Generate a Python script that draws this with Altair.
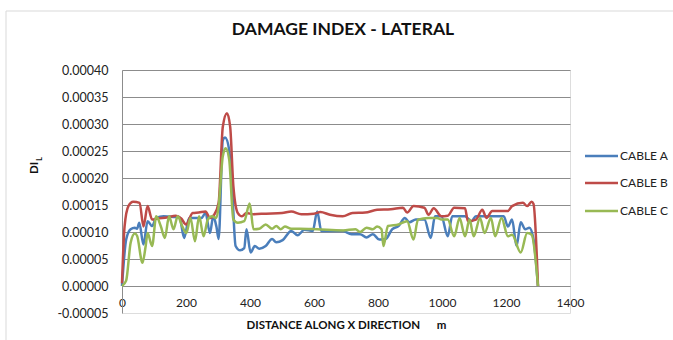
import altair as alt
import pandas as pd

# ---- data (distance in m, damage index) ----
a_x = [0, 13, 27, 40, 47, 54, 67, 80, 94, 107, 130, 160, 180, 194, 210, 230, 248, 261, 275, 285,
       295, 302, 315, 322, 335, 345, 355, 369, 382, 389, 402, 415, 429, 449, 469, 482, 502, 529, 549, 570,
       596, 610, 623, 650, 690, 717, 744, 764, 784, 804, 824, 844, 864, 884, 898, 918, 945, 965, 978, 998,
       1018, 1032, 1072, 1092, 1106, 1146, 1193, 1206, 1219, 1233, 1246, 1260, 1273, 1286, 1300]
a_y = [0.0, 0.000086, 0.000105, 0.000108, 0.000106, 0.000117, 0.000077, 0.000120, 0.000111, 0.000126,
       0.000129, 0.000128, 0.000127, 0.000089, 0.000126, 0.000126, 0.000126, 0.000135, 0.000098, 0.000129,
       0.000110, 0.000087, 0.000270, 0.000275, 0.000252, 0.000170, 0.000074, 0.000066, 0.000070, 0.000105,
       0.000062, 0.000074, 0.000069, 0.000074, 0.000087, 0.000081, 0.000085, 0.000102, 0.000094, 0.000104,
       0.000102, 0.000138, 0.000102, 0.000102, 0.000102, 0.000096, 0.000096, 0.000090, 0.000096, 0.000086,
       0.000087, 0.000105, 0.000111, 0.000126, 0.000118, 0.000123, 0.000123, 0.000089, 0.000129, 0.000129,
       0.000092, 0.000129, 0.000129, 0.000120, 0.000129, 0.000129, 0.000129, 0.000110, 0.000123, 0.000074,
       0.000118, 0.000105, 0.000108, 0.000086, 0.0]

b_x = [0, 8, 20, 35, 55, 67, 80, 94, 110, 140, 168, 185, 200, 221, 240, 261, 275, 288, 302, 315,
       328, 338, 348, 362, 375, 389, 410, 450, 500, 529, 560, 600, 620, 650, 690, 720, 760, 797, 840, 878,
       891, 911, 945, 958, 974, 998, 1018, 1038, 1072, 1081, 1106, 1126, 1139, 1157, 1206, 1219, 1253, 1266,
       1280, 1286, 1300]
b_y = [0.000005, 0.000110, 0.000148, 0.000156, 0.000154, 0.000110, 0.000148, 0.000123, 0.000125, 0.000127,
       0.000130, 0.000125, 0.000114, 0.000135, 0.000136, 0.000138, 0.000126, 0.000132, 0.000154, 0.000295,
       0.000320, 0.000295, 0.000185, 0.000135, 0.000129, 0.000135, 0.000133, 0.000134, 0.000135, 0.000138,
       0.000133, 0.000134, 0.000137, 0.000132, 0.000129, 0.000135, 0.000136, 0.000141, 0.000142, 0.000145,
       0.000136, 0.000148, 0.000145, 0.000132, 0.000144, 0.000129, 0.000130, 0.000145, 0.000144, 0.000120,
       0.000123, 0.000141, 0.000126, 0.000139, 0.000139, 0.000148, 0.000154, 0.000148, 0.000156, 0.000152,
       0.0]

c_x = [0, 13, 27, 40, 47, 64, 74, 80, 94, 107, 121, 134, 147, 161, 174, 188, 201, 214, 228, 241,
       255, 268, 281, 295, 302, 315, 324, 335, 348, 362, 382, 399, 411, 429, 449, 469, 482, 496, 509, 529,
       556, 610, 690, 730, 744, 764, 784, 797, 811, 817, 831, 864, 891, 911, 925, 958, 985, 998, 1018, 1038,
       1055, 1072, 1086, 1099, 1119, 1133, 1153, 1166, 1186, 1206, 1219, 1246, 1266, 1280, 1300]
c_y = [0.0, 0.000010, 0.000080, 0.000097, 0.000093, 0.000043, 0.000074, 0.000098, 0.000074, 0.000129,
       0.000111, 0.000089, 0.000129, 0.000105, 0.000129, 0.000111, 0.000098, 0.000126, 0.000083, 0.000129,
       0.000092, 0.000123, 0.000129, 0.000126, 0.000148, 0.000240, 0.000255, 0.000234, 0.000123, 0.000117,
       0.000120, 0.000153, 0.000105, 0.000106, 0.000114, 0.000106, 0.000111, 0.000105, 0.000110, 0.000106,
       0.000106, 0.000105, 0.000103, 0.000105, 0.000100, 0.000108, 0.000105, 0.000110, 0.000105, 0.000074,
       0.000111, 0.000114, 0.000120, 0.000086, 0.000123, 0.000126, 0.000126, 0.000123, 0.000123, 0.000092,
       0.000126, 0.000092, 0.000123, 0.000092, 0.000126, 0.000098, 0.000126, 0.000092, 0.000126, 0.000092,
       0.000095, 0.000062, 0.000098, 0.000095, 0.0]

series_names = ["CABLE A", "CABLE B", "CABLE C"]
series_colors = ["#4A7EBB", "#BE4B48", "#98B954"]
y_ticks = [-0.00005, 0.0, 0.00005, 0.0001, 0.00015, 0.0002, 0.00025, 0.0003, 0.00035, 0.0004]
x_ticks = [0, 200, 400, 600, 800, 1000, 1200, 1400]

rows = []
for name, xs, ys in zip(series_names, [a_x, b_x, c_x], [a_y, b_y, c_y]):
    for xv, yv in zip(xs, ys):
        rows.append({"x": xv, "v": yv, "series": name})
df = pd.DataFrame(rows)
one = pd.DataFrame({"k": [0]})

FONT = "Lato"
W, H = 448, 243
NB = "\u00a0"

lines = alt.Chart(df).mark_line(strokeWidth=2.5, interpolate="monotone").encode(
    x=alt.X("x:Q", scale=alt.Scale(domain=[0, 1400], nice=False, zero=False),
            axis=alt.Axis(values=x_ticks, title="DISTANCE ALONG X DIRECTION" + NB * 6 + "m", grid=False,
                          offset=-27, ticks=False, labelPadding=11, domainColor="#8c8c8c", format="d",
                          labelFlush=False, labelOverlap=False,
                          labelFontSize=12, labelColor="#222", labelFont=FONT,
                          titleFont=FONT, titleFontSize=11.5, titleFontWeight="bold",
                          titleColor="#111", titlePadding=11)),
    y=alt.Y("v:Q", scale=alt.Scale(domain=[-0.00005, 0.0004], nice=False, zero=False),
            axis=alt.Axis(values=y_ticks, title=None, ticks=False, labelPadding=14,
                          labelExpr="(datum.value < -0.000001 ? '-' : '') + format(abs(datum.value), '.5f')",
                          labelFontSize=12.5, labelColor="#222", labelFont=FONT, labelOverlap=False,
                          labelFlush=False,
                          domainColor="#8c8c8c", gridColor="#8c8c8c",
                          gridOpacity={"condition": {"test": "datum.value < -0.000001", "value": 0}, "value": 1})),
    color=alt.Color("series:N", scale=alt.Scale(domain=series_names, range=series_colors), legend=None),
)

title = alt.Chart(one).mark_text(text="DAMAGE INDEX - LATERAL", fontSize=17.5, fontWeight="bold",
                                 font=FONT, color="#111", baseline="middle", align="center").encode(
    x=alt.value(221), y=alt.value(-40))

ytitle_main = alt.Chart(one).mark_text(text="DI", fontSize=11.5, fontWeight="bold", font=FONT,
                                       color="#111", angle=270, baseline="middle", align="center").encode(
    x=alt.value(-87), y=alt.value(98))
ytitle_sub = alt.Chart(one).mark_text(text="L", fontSize=7, fontWeight="bold", font=FONT,
                                      color="#111", angle=270, baseline="middle", align="center").encode(
    x=alt.value(-82), y=alt.value(89))

border_top = alt.Chart(one).mark_rule(color="#d9d9d9", strokeWidth=1).encode(
    x=alt.value(-116), x2=alt.value(560), y=alt.value(-59))
border_left = alt.Chart(one).mark_rule(color="#d9d9d9", strokeWidth=1).encode(
    x=alt.value(-116), y=alt.value(-59), y2=alt.value(280))

legend_layers = []
legend_y = [86, 113, 141]
for name, col, ly in zip(series_names, series_colors, legend_y):
    legend_layers.append(alt.Chart(one).mark_rule(color=col, strokeWidth=2.5).encode(
        x=alt.value(463), x2=alt.value(496), y=alt.value(ly)))
    legend_layers.append(alt.Chart(one).mark_text(text=name, fontSize=12, font=FONT, color="#222",
                                                  align="left", baseline="middle").encode(
        x=alt.value(498), y=alt.value(ly)))

chart = alt.layer(border_top, border_left, lines, title, ytitle_main, ytitle_sub, *legend_layers).properties(
    width=W, height=H,
    autosize=alt.AutoSizeParams(type="none"),
    padding={"left": 122, "top": 70, "right": 103, "bottom": 27},
).configure_view(stroke=None).configure(background="white")

chart.save("out.html", embed_options={"renderer": "svg", "actions": False})
